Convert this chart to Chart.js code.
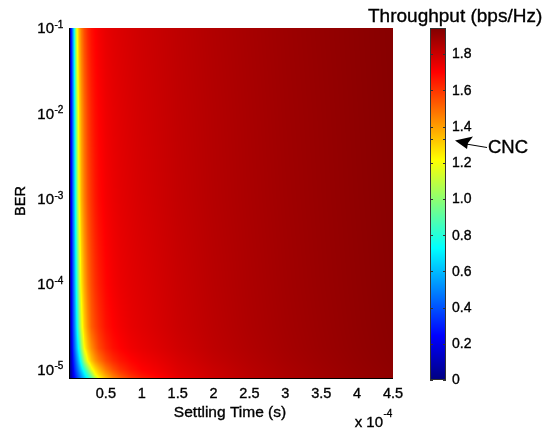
<!DOCTYPE html>
<html><head><meta charset="utf-8">
<script src="https://cdn.jsdelivr.net/npm/chart.js@4.4.0/dist/chart.umd.min.js"></script>
<style>html,body{margin:0;padding:0;background:#fff}canvas{display:block}</style>
</head><body>
<canvas id="c" width="549" height="434"></canvas>
<script>
// Settling time samples (units of 1e-4 s)
const settlingTimeE4 = [0,0.02,0.04,0.06,0.08,0.1,0.13,0.16,0.2,0.25,0.3,0.35,0.4,0.5,0.6,0.7,0.85,1.0,1.5,2.0,2.5,3.0,3.5,4.0,4.5];
// BER samples (rows)
const berValues = [1e-1,1e-2,1e-3,1e-4,3.16e-5,1.78e-5,1.26e-5,1e-5,8.7e-6,7.94e-6];
// Throughput (bps/Hz) for each BER row
const thrBER_1e1   = [0.03,0.30,0.52,0.75,1.02,1.22,1.37,1.47,1.56,1.63,1.675,1.70,1.72,1.745,1.76,1.77,1.783,1.795,1.825,1.85,1.87,1.888,1.903,1.917,1.93];
const thrBER_1e2   = [0.03,0.27,0.46,0.66,0.88,1.09,1.29,1.40,1.50,1.585,1.64,1.678,1.70,1.73,1.748,1.76,1.775,1.787,1.82,1.845,1.866,1.885,1.90,1.915,1.928];
const thrBER_1e3   = [0.03,0.24,0.43,0.60,0.79,1.0,1.23,1.36,1.46,1.555,1.61,1.655,1.685,1.718,1.738,1.752,1.767,1.78,1.815,1.842,1.863,1.882,1.898,1.913,1.926];
const thrBER_1e4   = [0.03,0.21,0.37,0.52,0.68,0.84,1.09,1.26,1.38,1.49,1.56,1.61,1.645,1.693,1.72,1.738,1.755,1.767,1.805,1.835,1.858,1.878,1.895,1.91,1.924];
const thrBER_3e5   = [0.02,0.19,0.34,0.46,0.60,0.74,0.97,1.16,1.31,1.43,1.52,1.57,1.61,1.67,1.70,1.722,1.745,1.759,1.80,1.83,1.855,1.875,1.892,1.908,1.922];
const thrBER_18e6  = [0.02,0.16,0.30,0.41,0.52,0.63,0.80,1.0,1.22,1.34,1.43,1.50,1.56,1.63,1.675,1.70,1.728,1.745,1.79,1.825,1.85,1.872,1.89,1.906,1.92];
const thrBER_13e6  = [0.02,0.12,0.25,0.34,0.43,0.52,0.66,0.81,1.03,1.22,1.33,1.41,1.47,1.56,1.62,1.66,1.695,1.72,1.775,1.815,1.843,1.867,1.886,1.903,1.918];
const thrBER_1e5   = [0.02,0.10,0.20,0.30,0.37,0.44,0.55,0.66,0.80,0.98,1.18,1.28,1.35,1.47,1.55,1.61,1.665,1.70,1.765,1.805,1.837,1.862,1.882,1.90,1.915];
const thrBER_87e7  = [0.02,0.08,0.18,0.26,0.33,0.39,0.48,0.57,0.69,0.84,1.0,1.2,1.28,1.40,1.49,1.56,1.63,1.675,1.755,1.80,1.833,1.858,1.879,1.897,1.913];
const thrBER_79e7  = [0.02,0.07,0.16,0.24,0.30,0.36,0.44,0.52,0.63,0.76,0.90,1.06,1.22,1.35,1.45,1.52,1.60,1.65,1.745,1.795,1.83,1.855,1.876,1.895,1.911];
const throughputRows = [thrBER_1e1,thrBER_1e2,thrBER_1e3,thrBER_1e4,thrBER_3e5,thrBER_18e6,thrBER_13e6,thrBER_1e5,thrBER_87e7,thrBER_79e7];

const xTickValuesE4 = [0.5,1,1.5,2,2.5,3,3.5,4,4.5];
const xTickLabels = ['0.5','1','1.5','2','2.5','3','3.5','4','4.5'];
const yTickExponents = [-1,-2,-3,-4,-5];
const cbTickValues = [0,0.2,0.4,0.6,0.8,1.0,1.2,1.4,1.6,1.8];
const cbTickLabels = ['0','0.2','0.4','0.6','0.8','1.0','1.2','1.4','1.6','1.8'];
const cbMax = 1.944;
const cncLevel = 1.33;

const FONT = '"Liberation Sans", Arial, Helvetica, sans-serif';

function jet(v){
  const n = Math.max(0, Math.min(1, v / cbMax));
  const c = t => Math.max(0, Math.min(1, t));
  return [
    Math.round(255 * c(Math.min(4*n - 1.5, -4*n + 4.5))),
    Math.round(255 * c(Math.min(4*n - 0.5, -4*n + 3.5))),
    Math.round(255 * c(Math.min(4*n + 0.5, -4*n + 2.5)))
  ];
}

const points = [];
berValues.forEach((b, i) => settlingTimeE4.forEach((t, j) => points.push({x: t*1e-4, y: b, v: throughputRows[i][j]})));

const heatPlugin = {
  id: 'heat',
  beforeDatasetsDraw(chart){
    const {ctx, chartArea: a, scales: {x, y}} = chart;
    const L = Math.round(a.left), T = Math.round(a.top);
    const W = Math.round(a.right) - L, H = Math.round(a.bottom) - T;
    const img = ctx.createImageData(W, H);
    const exps = berValues.map(Math.log10);
    const nx = settlingTimeE4.length;
    const cj = [], cf = [];
    for (let px = 0; px < W; px++){
      const xv = x.getValueForPixel(L + px + 0.5) * 1e4;
      let j = 0;
      while (j < nx - 2 && xv > settlingTimeE4[j+1]) j++;
      let f = (xv - settlingTimeE4[j]) / (settlingTimeE4[j+1] - settlingTimeE4[j]);
      cj.push(j); cf.push(Math.max(0, Math.min(1, f)));
    }
    for (let py = 0; py < H; py++){
      const e = Math.log10(y.getValueForPixel(T + py + 0.5));
      let i = 0;
      while (i < exps.length - 2 && e < exps[i+1]) i++;
      let g = (exps[i] - e) / (exps[i] - exps[i+1]);
      g = Math.max(0, Math.min(1, g));
      const r0 = throughputRows[i], r1 = throughputRows[i+1];
      for (let px = 0; px < W; px++){
        const j = cj[px], f = cf[px];
        const v0 = r0[j]*(1-f) + r0[j+1]*f;
        const v1 = r1[j]*(1-f) + r1[j+1]*f;
        const col = jet(v0*(1-g) + v1*g);
        const k = (py*W + px) * 4;
        img.data[k] = col[0]; img.data[k+1] = col[1]; img.data[k+2] = col[2]; img.data[k+3] = 255;
      }
    }
    ctx.putImageData(img, L, T);
  }
};

function txt(ctx, s, x, y){
  ctx.lineWidth = 0.35; ctx.strokeStyle = '#000';
  ctx.strokeText(s, x, y); ctx.fillText(s, x, y);
}

const overlayPlugin = {
  id: 'overlay',
  beforeDraw(chart){
    const ctx = chart.ctx;
    ctx.save(); ctx.fillStyle = '#fff'; ctx.fillRect(0, 0, chart.width, chart.height); ctx.restore();
  },
  afterDraw(chart){
    const {ctx, chartArea: a, scales: {x, y}} = chart;
    ctx.save();
    // axis lines
    ctx.strokeStyle = '#000'; ctx.lineWidth = 1;
    ctx.beginPath();
    ctx.moveTo(a.left - 0.5, a.top); ctx.lineTo(a.left - 0.5, a.bottom + 1);
    ctx.moveTo(a.left - 1, a.bottom + 0.5); ctx.lineTo(a.right, a.bottom + 0.5);
    ctx.stroke();
    ctx.fillStyle = '#000';
    // x tick labels
    ctx.font = '14.5px ' + FONT; ctx.textAlign = 'center'; ctx.textBaseline = 'middle';
    x.ticks.forEach((t, i) => txt(ctx, xTickLabels[i], x.getPixelForValue(t.value), 393.5));
    // y tick labels 10^n
    yTickExponents.forEach(n => {
      const yp = y.getPixelForValue(Math.pow(10, n));
      ctx.font = '15px ' + FONT; ctx.textAlign = 'right'; ctx.textBaseline = 'middle';
      txt(ctx, '10', 54, yp + 1);
      ctx.font = '10px ' + FONT; ctx.textAlign = 'left'; ctx.textBaseline = 'alphabetic';
      txt(ctx, String(n), 54.5, yp);
    });
    // y label
    ctx.save();
    ctx.translate(21, 201); ctx.rotate(-Math.PI/2);
    ctx.font = '14.5px ' + FONT; ctx.textAlign = 'center'; ctx.textBaseline = 'middle';
    txt(ctx, 'BER', 0, 0);
    ctx.restore();
    // x label
    ctx.font = '15.5px ' + FONT; ctx.textAlign = 'center'; ctx.textBaseline = 'middle';
    txt(ctx, 'Settling Time (s)', 230, 413);
    // x multiplier
    ctx.font = '15px ' + FONT; ctx.textAlign = 'right'; ctx.textBaseline = 'alphabetic';
    txt(ctx, 'x 10', 383, 427);
    ctx.font = '10px ' + FONT; ctx.textAlign = 'left';
    txt(ctx, '-4', 383.5, 417);
    // title
    ctx.font = '19px ' + FONT; ctx.textAlign = 'left'; ctx.textBaseline = 'alphabetic';
    txt(ctx, 'Throughput (bps/Hz)', 368, 21.5);
    // colorbar
    const cbL = 430, cbR = 446, cbT = 28, cbB = 380, cbH = cbB - cbT;
    for (let py = cbT; py < cbB; py++){
      const c = jet((cbB - py - 0.5) / cbH * cbMax);
      ctx.fillStyle = 'rgb(' + c.join(',') + ')';
      ctx.fillRect(cbL, py, cbR - cbL, 1);
    }
    ctx.strokeStyle = '#333'; ctx.lineWidth = 1;
    ctx.strokeRect(cbL + 0.5, cbT + 0.5, cbR - cbL - 1, cbH - 1);
    const cbPix = v => cbB - v / cbMax * cbH;
    ctx.beginPath();
    cbTickValues.concat([cncLevel]).forEach(v => {
      const yp = Math.round(cbPix(v)) + 0.5;
      ctx.moveTo(cbL, yp); ctx.lineTo(cbL + 3, yp);
      ctx.moveTo(cbR - 3, yp); ctx.lineTo(cbR, yp);
    });
    ctx.stroke();
    ctx.fillStyle = '#000';
    ctx.font = '14px ' + FONT; ctx.textAlign = 'left'; ctx.textBaseline = 'middle';
    cbTickValues.forEach((v, i) => txt(ctx, cbTickLabels[i], 452, cbPix(v) + 0.5));
    // CNC annotation
    ctx.beginPath();
    ctx.moveTo(466, 144); ctx.lineTo(487, 147.5);
    ctx.strokeStyle = '#000'; ctx.lineWidth = 1; ctx.stroke();
    ctx.beginPath();
    ctx.moveTo(455, 140.5); ctx.lineTo(473, 136.5); ctx.lineTo(468, 143); ctx.lineTo(467, 149); ctx.closePath();
    ctx.fill();
    ctx.font = '18.5px ' + FONT; ctx.textAlign = 'left'; ctx.textBaseline = 'alphabetic';
    txt(ctx, 'CNC', 488, 153);
    ctx.restore();
  }
};

new Chart(document.getElementById('c'), {
  type: 'scatter',
  data: { datasets: [{ data: points, pointRadius: 0, pointHoverRadius: 0, showLine: false }] },
  options: {
    responsive: false, animation: false, events: [],
    layout: { padding: { left: 0, right: 156, top: 28, bottom: 0 } },
    plugins: { legend: { display: false }, tooltip: { enabled: false }, title: { display: false } },
    scales: {
      x: {
        type: 'linear', min: 0, max: 4.5e-4,
        grid: { display: false, drawTicks: false }, border: { display: false },
        afterBuildTicks: s => { s.ticks = xTickValuesE4.map(v => ({ value: v * 1e-4 })); },
        afterFit: s => { s.height = 56; },
        ticks: { display: false, callback: (v, i) => xTickLabels[i] }
      },
      y: {
        type: 'logarithmic', min: 7.94e-6, max: 0.1,
        grid: { display: false, drawTicks: false }, border: { display: false },
        ticks: { display: false },
        afterFit: s => { s.width = 70; }
      }
    }
  },
  plugins: [heatPlugin, overlayPlugin]
});
</script>
</body></html>
